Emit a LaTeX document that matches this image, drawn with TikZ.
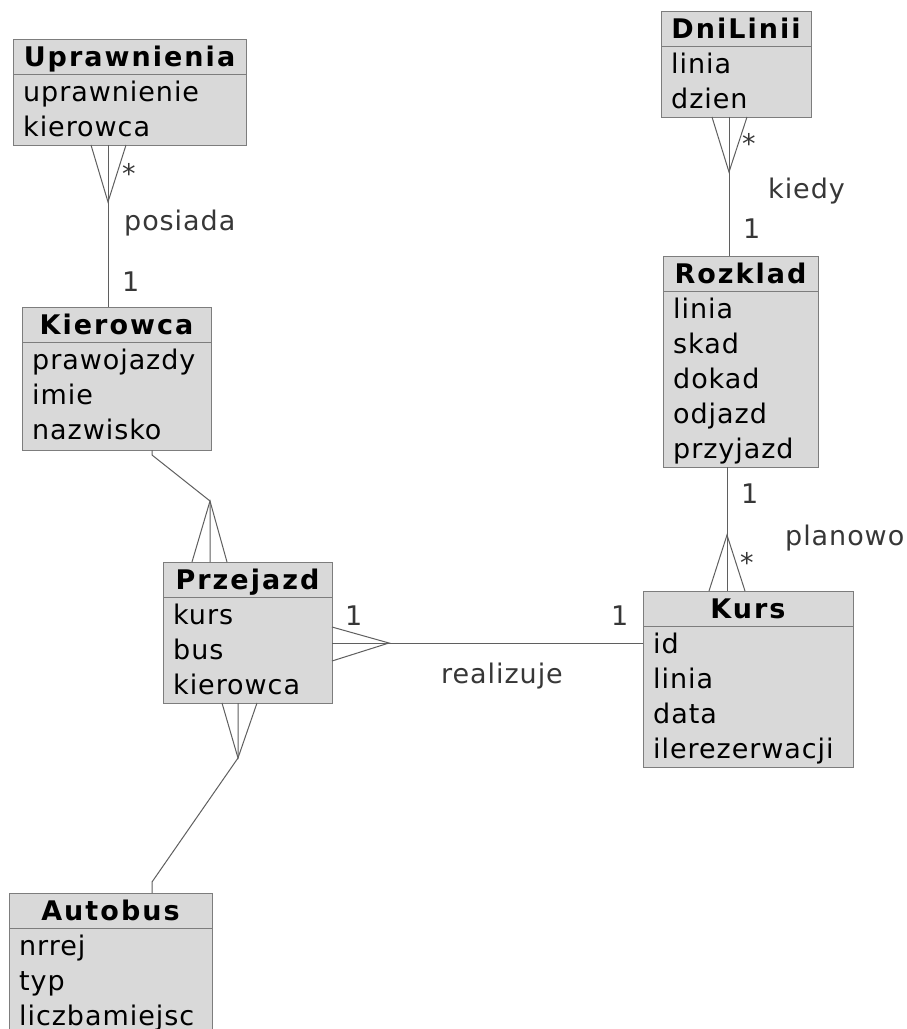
\documentclass[tikz,border=0pt]{standalone}
\usepackage{fontspec}
\setmainfont{DejaVu Sans}[LetterSpace=3.5]
\newfontfamily\titlefont{DejaVu Sans}[LetterSpace=7.5]
\usetikzlibrary{calc,positioning}
\definecolor{boxfill}{RGB}{217,217,217}
\definecolor{boxline}{RGB}{125,125,125}
\definecolor{linkcol}{RGB}{95,95,95}
\definecolor{lbltext}{RGB}{55,55,55}
\begin{document}
\begin{tikzpicture}[
    x=1pt, y=-1pt,
    font=\fontsize{27}{35}\selectfont,
    cls/.style={
        draw=boxline,
        fill=boxfill,
        line width=1pt,
        anchor=north west,
        outer sep=0pt,
        inner sep=0pt
    },
    title/.style={font=\fontsize{27}{35}\titlefont\bfseries, anchor=base, inner sep=0pt},
    attr/.style={anchor=base west, inner sep=0pt},
    divider/.style={draw=boxline, line width=1pt},
    link/.style={draw=linkcol, line width=1pt},
    lbl/.style={text=lbltext, anchor=base west, inner sep=0pt}
]
\useasboundingbox[fill=white] (0,0) rectangle (906,1029);

% klasy
\node[cls, minimum width=233, minimum height=106] (upr) at (13,39) {};
\node[title] (upr-t) at ($(upr.north)+(0,27)$) {Uprawnienia};
\draw[divider] ($(upr.north west)+(0,35)$) -- ($(upr.north east)+(0,35)$);
\foreach \a [count=\i] in {uprawnienie,kierowca}
    \node[attr] (upr-\i) at ($(upr.north west)+(10,62+35.2*\i-35.2)$) {\a};

\node[cls, minimum width=189, minimum height=143] (kie) at (22,307) {};
\node[title] (kie-t) at ($(kie.north)+(0,27)$) {Kierowca};
\draw[divider] ($(kie.north west)+(0,35)$) -- ($(kie.north east)+(0,35)$);
\foreach \a [count=\i] in {prawojazdy,imie,nazwisko}
    \node[attr] (kie-\i) at ($(kie.north west)+(10,62+35.2*\i-35.2)$) {\a};

\node[cls, minimum width=169, minimum height=141] (prz) at (163,562) {};
\node[title] (prz-t) at ($(prz.north)+(0,27)$) {Przejazd};
\draw[divider] ($(prz.north west)+(0,35)$) -- ($(prz.north east)+(0,35)$);
\foreach \a [count=\i] in {kurs,bus,kierowca}
    \node[attr] (prz-\i) at ($(prz.north west)+(10,62+35.2*\i-35.2)$) {\a};

\node[cls, minimum width=203, minimum height=145] (aut) at (9,893) {};
\node[title] (aut-t) at ($(aut.north)+(0,27)$) {Autobus};
\draw[divider] ($(aut.north west)+(0,35)$) -- ($(aut.north east)+(0,35)$);
\foreach \a [count=\i] in {nrrej,typ,liczbamiejsc}
    \node[attr] (aut-\i) at ($(aut.north west)+(10,62+35.2*\i-35.2)$) {\a};

\node[cls, minimum width=150, minimum height=106] (dni) at (661,11) {};
\node[title] (dni-t) at ($(dni.north)+(0,27)$) {DniLinii};
\draw[divider] ($(dni.north west)+(0,35)$) -- ($(dni.north east)+(0,35)$);
\foreach \a [count=\i] in {linia,dzien}
    \node[attr] (dni-\i) at ($(dni.north west)+(10,62+35.2*\i-35.2)$) {\a};

\node[cls, minimum width=155, minimum height=211] (roz) at (663,256) {};
\node[title] (roz-t) at ($(roz.north)+(0,27)$) {Rozklad};
\draw[divider] ($(roz.north west)+(0,35)$) -- ($(roz.north east)+(0,35)$);
\foreach \a [count=\i] in {linia,skad,dokad,odjazd,przyjazd}
    \node[attr] (roz-\i) at ($(roz.north west)+(10,62+35.2*\i-35.2)$) {\a};

\node[cls, minimum width=210, minimum height=176] (kur) at (643,591) {};
\node[title] (kur-t) at ($(kur.north)+(0,27)$) {Kurs};
\draw[divider] ($(kur.north west)+(0,35)$) -- ($(kur.north east)+(0,35)$);
\foreach \a [count=\i] in {id,linia,data,ilerezerwacji}
    \node[attr] (kur-\i) at ($(kur.north west)+(10,62+35.2*\i-35.2)$) {\a};

% posiada
\coordinate (upr-f) at (108,202);
\draw[link] (upr.south -| upr-f) -- (kie.north -| upr-f);
\draw[link] ($(upr.south -| upr-f)+(-17,0)$) -- (upr-f) -- ($(upr.south -| upr-f)+(18,0)$);
\node[lbl] (l-upr-m) at (122,183) {*};
\node[lbl] (l-posiada) at (124,230) {posiada};
\node[lbl] (l-kie-1) at (122,291) {1};

% kierowca - przejazd
\coordinate (kie-b) at (152,455);
\coordinate (prz-f) at (210,501);
\draw[link] (kie.south -| kie-b) -- (kie-b) -- (prz-f) -- (prz.north -| prz-f);
\draw[link] ($(prz.north -| prz-f)+(-18,0)$) -- (prz-f) -- ($(prz.north -| prz-f)+(17,0)$);

% realizuje
\coordinate (prz-r) at (389,643);
\draw[link] (prz.east |- prz-r) -- (kur.west |- prz-r);
\draw[link] ($(prz.east |- prz-r)+(0,-16)$) -- (prz-r) -- ($(prz.east |- prz-r)+(0,18)$);
\node[lbl] (l-prz-1) at (345,625) {1};
\node[lbl] (l-kur-1) at (611,625) {1};
\node[lbl] (l-realizuje) at (441,683) {realizuje};

% przejazd - autobus
\coordinate (prz-d) at (238,758);
\coordinate (aut-b) at (152,882);
\draw[link] (prz.south -| prz-d) -- (prz-d) -- (aut-b) -- (aut.north -| aut-b);
\draw[link] ($(prz.south -| prz-d)+(-16,0)$) -- (prz-d) -- ($(prz.south -| prz-d)+(19,0)$);

% kiedy
\coordinate (dni-f) at (729,172);
\draw[link] (dni.south -| dni-f) -- (roz.north -| dni-f);
\draw[link] ($(dni.south -| dni-f)+(-17,0)$) -- (dni-f) -- ($(dni.south -| dni-f)+(18,0)$);
\node[lbl] (l-dni-m) at (742,153) {*};
\node[lbl] (l-kiedy) at (768,198) {kiedy};
\node[lbl] (l-roz-1) at (743,238) {1};

% planowo
\coordinate (kur-f) at (727,535);
\draw[link] (roz.south -| kur-f) -- (kur.north -| kur-f);
\draw[link] ($(kur.north -| kur-f)+(-18,0)$) -- (kur-f) -- ($(kur.north -| kur-f)+(18,0)$);
\node[lbl] (l-roz-1b) at (741,503) {1};
\node[lbl] (l-planowo) at (785,545) {planowo};
\node[lbl] (l-kur-m) at (740,572) {*};

\end{tikzpicture}
\end{document}
